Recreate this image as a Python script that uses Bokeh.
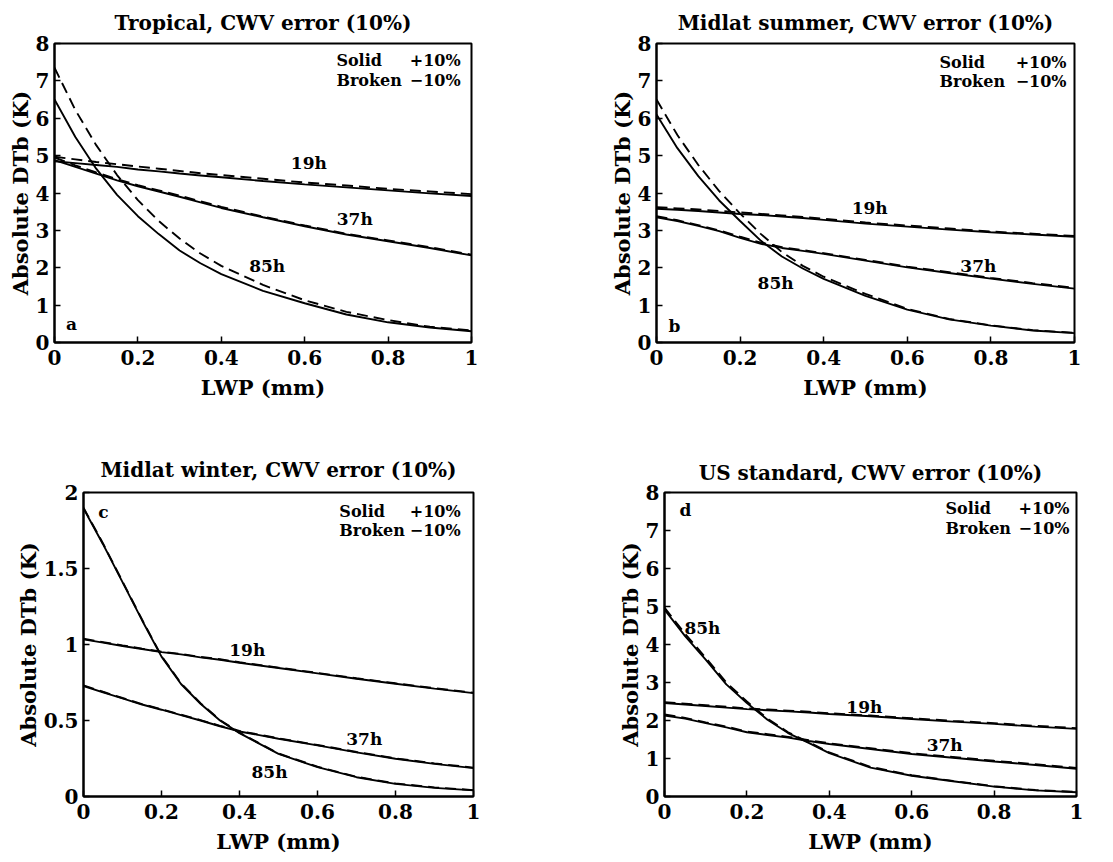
from bokeh.plotting import figure
from bokeh.models import FixedTicker, Label, Range1d
from bokeh.layouts import column, row
from bokeh.embed import file_html
from bokeh.resources import INLINE

# ---------------- data ----------------
lwp = [0, 0.05, 0.1, 0.15, 0.2, 0.25, 0.3, 0.35, 0.4, 0.5, 0.6, 0.7, 0.8, 0.9, 1.0]

x_ticks = [0, 0.2, 0.4, 0.6, 0.8, 1.0]
x_tick_labels = ["0", "0.2", "0.4", "0.6", "0.8", "1"]
y_ticks_8 = [0, 1, 2, 3, 4, 5, 6, 7, 8]
y_tick_labels_8 = ["0", "1", "2", "3", "4", "5", "6", "7", "8"]
y_ticks_2 = [0, 0.5, 1, 1.5, 2]
y_tick_labels_2 = ["0", "0.5", "1", "1.5", "2"]

titles = ["Tropical, CWV error (10%)", "Midlat summer, CWV error (10%)",
          "Midlat winter, CWV error (10%)", "US standard, CWV error (10%)"]
panel_letters = ["a", "b", "c", "d"]
channels = ["19h", "37h", "85h"]

# (a) Tropical
trop_19_solid  = [4.85, 4.80, 4.75, 4.70, 4.63, 4.58, 4.52, 4.47, 4.42, 4.32, 4.23, 4.15, 4.07, 3.99, 3.92]
trop_19_broken = [4.97, 4.90, 4.83, 4.77, 4.71, 4.65, 4.59, 4.53, 4.48, 4.38, 4.28, 4.20, 4.11, 4.04, 3.97]
trop_37_solid  = [4.88, 4.70, 4.52, 4.34, 4.18, 4.04, 3.90, 3.75, 3.60, 3.35, 3.11, 2.89, 2.71, 2.53, 2.33]
trop_37_broken = [4.95, 4.74, 4.55, 4.37, 4.21, 4.07, 3.93, 3.78, 3.63, 3.37, 3.13, 2.91, 2.73, 2.55, 2.35]
trop_85_solid  = [6.50, 5.50, 4.65, 3.95, 3.38, 2.90, 2.46, 2.12, 1.83, 1.38, 1.05, 0.75, 0.54, 0.40, 0.30]
trop_85_broken = [7.35, 6.22, 5.28, 4.48, 3.81, 3.25, 2.78, 2.38, 2.05, 1.54, 1.13, 0.82, 0.60, 0.42, 0.32]

# (b) Midlatitude summer
mls_19_solid  = [3.58, 3.55, 3.52, 3.48, 3.44, 3.41, 3.37, 3.33, 3.28, 3.18, 3.10, 3.02, 2.95, 2.89, 2.83]
mls_19_broken = [3.62, 3.59, 3.56, 3.52, 3.48, 3.44, 3.40, 3.36, 3.31, 3.21, 3.13, 3.05, 2.97, 2.91, 2.85]
mls_37_solid  = [3.35, 3.25, 3.12, 2.98, 2.80, 2.64, 2.53, 2.45, 2.37, 2.19, 2.01, 1.86, 1.71, 1.57, 1.44]
mls_37_broken = [3.38, 3.27, 3.14, 3.00, 2.83, 2.67, 2.55, 2.47, 2.39, 2.21, 2.03, 1.88, 1.73, 1.59, 1.46]
mls_85_solid  = [6.10, 5.20, 4.45, 3.80, 3.25, 2.72, 2.30, 1.98, 1.70, 1.25, 0.88, 0.62, 0.45, 0.32, 0.25]
mls_85_broken = [6.50, 5.55, 4.75, 4.05, 3.45, 2.90, 2.42, 2.05, 1.76, 1.30, 0.90, 0.63, 0.46, 0.33, 0.26]

# (c) Midlatitude winter
mlw_19_solid  = [1.034, 1.012, 0.990, 0.970, 0.950, 0.935, 0.915, 0.900, 0.880, 0.845, 0.810, 0.775, 0.742, 0.710, 0.680]
mlw_19_broken = [1.038, 1.016, 0.994, 0.973, 0.953, 0.938, 0.918, 0.903, 0.883, 0.848, 0.813, 0.778, 0.745, 0.713, 0.683]
mlw_37_solid  = [0.727, 0.685, 0.645, 0.605, 0.571, 0.535, 0.500, 0.462, 0.428, 0.380, 0.336, 0.290, 0.248, 0.215, 0.187]
mlw_37_broken = [0.731, 0.689, 0.648, 0.608, 0.574, 0.538, 0.503, 0.465, 0.431, 0.383, 0.339, 0.293, 0.251, 0.218, 0.190]
mlw_85_solid  = [1.895, 1.660, 1.410, 1.160, 0.920, 0.740, 0.610, 0.500, 0.417, 0.280, 0.193, 0.127, 0.083, 0.057, 0.040]
mlw_85_broken = [1.900, 1.665, 1.415, 1.165, 0.925, 0.745, 0.614, 0.503, 0.420, 0.283, 0.196, 0.130, 0.086, 0.060, 0.042]

# (d) US standard
uss_19_solid  = [2.46, 2.42, 2.38, 2.34, 2.30, 2.27, 2.24, 2.21, 2.17, 2.11, 2.04, 1.97, 1.91, 1.84, 1.78]
uss_19_broken = [2.48, 2.44, 2.40, 2.36, 2.32, 2.29, 2.26, 2.23, 2.19, 2.13, 2.06, 1.99, 1.93, 1.86, 1.80]
uss_37_solid  = [2.13, 2.05, 1.93, 1.82, 1.69, 1.62, 1.55, 1.46, 1.38, 1.25, 1.12, 1.02, 0.92, 0.83, 0.73]
uss_37_broken = [2.16, 2.07, 1.95, 1.84, 1.71, 1.64, 1.57, 1.48, 1.40, 1.27, 1.14, 1.04, 0.94, 0.85, 0.75]
uss_85_solid  = [4.92, 4.22, 3.60, 2.95, 2.46, 2.02, 1.67, 1.41, 1.14, 0.76, 0.545, 0.40, 0.26, 0.16, 0.11]
uss_85_broken = [4.97, 4.28, 3.65, 3.00, 2.50, 2.05, 1.69, 1.43, 1.16, 0.78, 0.56, 0.41, 0.27, 0.17, 0.12]

# ---------------- layout / style ----------------
SERIF = "DejaVu Serif"

panel_specs = [
    dict(width=556, height=430, left=54, right=85, top=41, bottom=88, ymax=8, title_off=17,
         yt=y_ticks_8, ytl=y_tick_labels_8,
         series=[(trop_19_solid, trop_19_broken), (trop_37_solid, trop_37_broken), (trop_85_solid, trop_85_broken)],
         lab_pos=[(0.61, 4.79), (0.72, 3.30), (0.51, 2.05)], letter_pos=(0.041, 0.5),
         leg_x=(0.676, 0.974), leg_y=(7.55, 7.02)),
    dict(width=557, height=430, left=100, right=39, top=42, bottom=88, ymax=8, title_off=17,
         yt=y_ticks_8, ytl=y_tick_labels_8,
         series=[(mls_19_solid, mls_19_broken), (mls_37_solid, mls_37_broken), (mls_85_solid, mls_85_broken)],
         lab_pos=[(0.51, 3.60), (0.77, 2.05), (0.285, 1.60)], letter_pos=(0.043, 0.45),
         leg_x=(0.677, 0.981), leg_y=(7.49, 6.99)),
    dict(width=556, height=432, left=83, right=83, top=62, bottom=66, ymax=2, title_off=21,
         yt=y_ticks_2, ytl=y_tick_labels_2,
         series=[(mlw_19_solid, mlw_19_broken), (mlw_37_solid, mlw_37_broken), (mlw_85_solid, mlw_85_broken)],
         lab_pos=[(0.42, 0.967), (0.72, 0.38), (0.477, 0.158)], letter_pos=(0.051, 1.875),
         leg_x=(0.656, 0.967), leg_y=(1.877, 1.75)),
    dict(width=557, height=432, left=108, right=37, top=62, bottom=65, ymax=8, title_off=15,
         yt=y_ticks_8, ytl=y_tick_labels_8,
         series=[(uss_19_solid, uss_19_broken), (uss_37_solid, uss_37_broken), (uss_85_solid, uss_85_broken)],
         lab_pos=[(0.485, 2.36), (0.68, 1.36), (0.092, 4.43)], letter_pos=(0.051, 7.53),
         leg_x=(0.682, 0.983), leg_y=(7.58, 7.06)),
]


def make_panel(i, s):
    p = figure(width=s["width"], height=s["height"], output_backend="svg",
               toolbar_location=None, x_range=Range1d(0, 1), y_range=Range1d(0, s["ymax"]),
               min_border_left=s["left"], min_border_right=s["right"],
               min_border_top=s["top"], min_border_bottom=s["bottom"],
               title=titles[i])
    p.background_fill_color = "white"
    p.border_fill_color = "white"
    p.outline_line_color = "black"
    p.outline_line_width = 2
    p.grid.visible = False

    p.title.align = "center"
    p.title.text_font = SERIF
    p.title.text_font_style = "bold"
    p.title.text_font_size = "20px"
    p.title.text_color = "black"
    p.title.standoff = s["title_off"]

    p.xaxis.ticker = FixedTicker(ticks=x_ticks)
    p.xaxis.major_label_overrides = dict(zip(x_ticks, x_tick_labels))
    p.yaxis.ticker = FixedTicker(ticks=s["yt"])
    p.yaxis.major_label_overrides = dict(zip(s["yt"], s["ytl"]))
    p.xaxis.axis_label = "LWP (mm)"
    p.yaxis.axis_label = "Absolute DTb (K)"
    for ax in (p.xaxis[0], p.yaxis[0]):
        ax.axis_line_width = 2
        ax.axis_line_color = "black"
        ax.major_tick_in = 6
        ax.major_tick_out = 0
        ax.major_tick_line_width = 1.5
        ax.minor_tick_line_color = None
        ax.major_label_text_font = SERIF
        ax.major_label_text_font_style = "bold"
        ax.major_label_text_font_size = "20px"
        ax.major_label_text_color = "black"
        ax.axis_label_text_font = SERIF
        ax.axis_label_text_font_style = "bold"
        ax.axis_label_text_font_size = "21px"
        ax.axis_label_text_color = "black"
    p.xaxis.major_label_standoff = 7
    p.xaxis.axis_label_standoff = 7
    p.yaxis.major_label_standoff = 5
    p.yaxis.axis_label_standoff = 0

    for solid, broken in s["series"]:
        p.line(lwp, solid, line_color="black", line_width=1.9)
        p.line(lwp, broken, line_color="black", line_width=1.9, line_dash="11 6")

    for name, (lx, ly) in zip(channels, s["lab_pos"]):
        p.add_layout(Label(x=lx, y=ly, text=name, text_align="center", text_baseline="middle",
                           text_font=SERIF, text_font_style="bold", text_font_size="17px",
                           text_color="black"))
    lx, ly = s["letter_pos"]
    p.add_layout(Label(x=lx, y=ly, text=panel_letters[i], text_align="center", text_baseline="middle",
                       text_font=SERIF, text_font_style="bold", text_font_size="17px", text_color="black"))

    xl, xr = s["leg_x"]
    for (left_txt, right_txt), yy in zip([("Solid", "+10%"), ("Broken", "\u221210%")], s["leg_y"]):
        p.add_layout(Label(x=xl, y=yy, text=left_txt, text_align="left", text_baseline="middle",
                           text_font=SERIF, text_font_style="bold", text_font_size="16px",
                           text_color="black"))
        p.add_layout(Label(x=xr, y=yy, text=right_txt, text_align="right", text_baseline="middle",
                           text_font=SERIF, text_font_style="bold", text_font_size="16px",
                           text_color="black"))
    return p


figs = [make_panel(i, s) for i, s in enumerate(panel_specs)]
layout = column(row(figs[0], figs[1]), row(figs[2], figs[3]))

open("out.html", "w").write(file_html(layout, INLINE))
